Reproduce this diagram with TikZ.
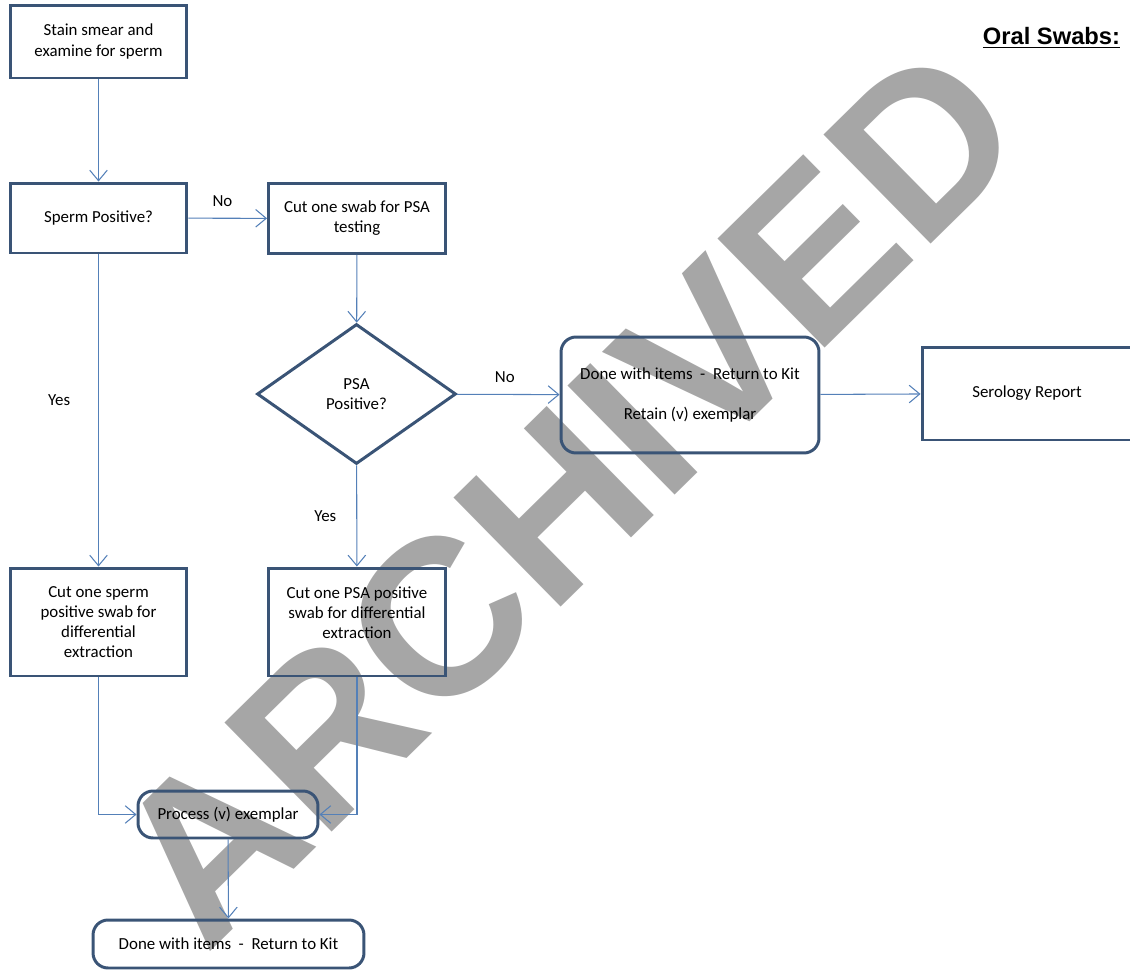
\documentclass[tikz,border=0pt]{standalone}
\usepackage{fontspec}
\setmainfont{Carlito}
\newfontfamily\arialfont{Liberation Sans}
\usepackage{tikz}
\usetikzlibrary{positioning, shapes.geometric, arrows.meta}

\definecolor{boxblue}{RGB}{58,84,118}
\definecolor{lineblue}{RGB}{84,128,184}
\definecolor{stampgray}{RGB}{166,166,166}

\tikzset{
  box/.style={draw=boxblue, line width=1.7pt, minimum width=3.54cm, align=center, font=\fontsize{9.6}{11.4}\selectfont},
  roundbox/.style={box, rounded corners=0.3cm},
  decision/.style={diamond, draw=boxblue, line width=1.7pt, minimum width=3.98cm, minimum height=2.8cm, inner sep=0pt, align=center, font=\fontsize{9.6}{11.4}\selectfont},
  flow/.style={draw=lineblue, line width=0.6pt, -{Straight Barb[length=6pt,width=10pt]}},
  flowlabel/.style={font=\fontsize{9.6}{11}\selectfont}
}

\begin{document}
\begin{tikzpicture}[x=0.02cm, y=-0.02cm]
\useasboundingbox (0,0) rectangle (1130,970);

% watermark behind everything
\node[text=stampgray, rotate=44.5, font=\arialfont\bfseries\fontsize{126.5}{126.5}\selectfont] (stamp) at (567,494) {ARCHIVED};

\node[font=\arialfont\bfseries\fontsize{13.5}{15}\selectfont] (title) at (1051.5,38) {\underline{Oral Swabs:}};

\node[box, minimum height=1.46cm] (stain) at (98.5,41.5) {Stain smear and\\examine for sperm};
\node[box, minimum height=1.4cm] (spermq) at (98.5,218) {Sperm Positive?};
\node[box, minimum height=1.4cm] (cutpsa) at (357,218.5) {Cut one swab for PSA\\testing};
\node[decision] (psaq) at (356.5,394) {PSA\\Positive?};
\node[roundbox, minimum width=5.16cm, minimum height=2.32cm] (done1) at (690,395) {Done with items\ \ -\ \ Return to Kit\\[11pt]Retain (v) exemplar};
\node[box, minimum width=4.2cm, minimum height=1.86cm] (serology) at (1027,393.5) {Serology Report};
\node[box, minimum height=2.16cm] (cutsperm) at (98.5,622) {Cut one sperm\\positive swab for\\differential\\extraction};
\node[box, minimum height=2.16cm] (cutpsapos) at (357,622) {Cut one PSA positive\\swab for differential\\extraction\\[-1pt]};
\node[roundbox, minimum width=3.6cm, minimum height=0.94cm] (process) at (228,814.5) {Process (v) exemplar};
\node[roundbox, minimum width=5.42cm, minimum height=0.96cm] (done2) at (228.5,944) {Done with items\ \ -\ \ Return to Kit};

\draw[flow] (stain) -- (spermq);
\draw[flow] (spermq) -- node[flowlabel, above=3pt, xshift=-3pt]{No} (cutpsa);
\draw[flow] (cutpsa) -- (psaq);
\draw[flow] (psaq) -- node[flowlabel, above=3pt, xshift=-2pt]{No} (done1);
\draw[flow] (done1) -- (serology);
\draw[flow] (spermq) -- node[flowlabel, left=12.5pt, yshift=6pt]{Yes} (cutsperm);
\draw[flow] (psaq) -- node[flowlabel, left=8pt]{Yes} (cutpsapos);
\draw[flow] (cutsperm.south) |- (process.west);
\draw[flow] (cutpsapos.south) |- (process.east);
\draw[flow] (process) -- (done2);
\end{tikzpicture}
\end{document}
